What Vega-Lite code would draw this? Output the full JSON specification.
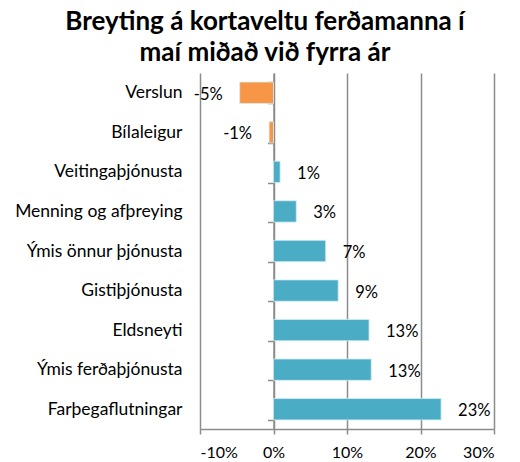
{
  "$schema": "https://vega.github.io/schema/vega-lite/v6.json",
  "autosize": "none",
  "width": 294,
  "height": 356,
  "padding": {"left": 200, "top": 73, "right": 26, "bottom": 33},
  "background": "white",
  "config": {
    "font": "Lato",
    "view": {"stroke": null},
    "axis": {"labelFont": "Lato", "labelFontSize": 16, "labelColor": "#000000"}
  },
  "title": {
    "text": ["Breyting á kortaveltu ferðamanna í", "maí miðað við fyrra ár"],
    "fontSize": 26,
    "fontWeight": "bold",
    "font": "Lato",
    "color": "#000000",
    "anchor": "middle",
    "frame": "group",
    "dx": -82,
    "lineHeight": 31,
    "offset": -2
  },
  "data": {
    "values": [
      {"flokkur": "Verslun", "breyting": -0.046},
      {"flokkur": "Bílaleigur", "breyting": -0.006},
      {"flokkur": "Veitingaþjónusta", "breyting": 0.009},
      {"flokkur": "Menning og afþreying", "breyting": 0.031},
      {"flokkur": "Ýmis önnur þjónusta", "breyting": 0.071},
      {"flokkur": "Gistiþjónusta", "breyting": 0.088},
      {"flokkur": "Eldsneyti", "breyting": 0.13},
      {"flokkur": "Ýmis ferðaþjónusta", "breyting": 0.133},
      {"flokkur": "Farþegaflutningar", "breyting": 0.228}
    ]
  },
  "encoding": {
    "y": {
      "field": "flokkur",
      "type": "nominal",
      "sort": null,
      "scale": {"paddingInner": 0.46, "paddingOuter": 0.23},
      "axis": {
        "title": null,
        "orient": "left",
        "offset": -73.5,
        "domain": true,
        "domainColor": "#8c8c8c",
        "domainWidth": 1.5,
        "ticks": true,
        "tickBand": "extent",
        "tickColor": "#8c8c8c",
        "tickWidth": 1.5,
        "tickSize": 6,
        "labelPadding": 85.5,
        "labelFontSize": 17.5,
        "labelLimit": 250
      }
    },
    "x": {
      "field": "breyting",
      "type": "quantitative",
      "scale": {"domain": [-0.1, 0.3], "nice": false, "zero": false},
      "axis": {
        "title": null,
        "format": ".0%",
        "labelExpr": "replace(datum.label, '\u2212', '-')",
        "values": [-0.1, 0, 0.1, 0.2, 0.3],
        "grid": true,
        "gridColor": "#8c8c8c",
        "gridWidth": 1.5,
        "domainColor": "#8c8c8c",
        "domainWidth": 1.5,
        "tickColor": "#8c8c8c",
        "tickWidth": 1.5,
        "tickSize": 5,
        "labelPadding": 10
      }
    }
  },
  "layer": [
    {
      "mark": {"type": "bar", "stroke": "#d6eef4", "strokeWidth": 0.8},
      "encoding": {
        "color": {
          "condition": {"test": "datum.breyting < 0", "value": "#F79646"},
          "value": "#4BACC6"
        }
      }
    },
    {
      "transform": [{"filter": "datum.breyting >= 0"}],
      "mark": {"type": "text", "align": "left", "baseline": "middle", "dx": 17, "dy": 2, "fontSize": 16.5, "color": "#000000"},
      "encoding": {
        "text": {"field": "breyting", "type": "quantitative", "format": ".0%"}
      }
    },
    {
      "transform": [{"filter": "datum.breyting < 0"}],
      "mark": {"type": "text", "align": "right", "baseline": "middle", "dx": -17, "dy": 2, "fontSize": 16.5, "color": "#000000",
        "text": {"expr": "replace(format(datum.breyting, '.0%'), '\u2212', '-')"}},
      "encoding": {}
    }
  ]
}
